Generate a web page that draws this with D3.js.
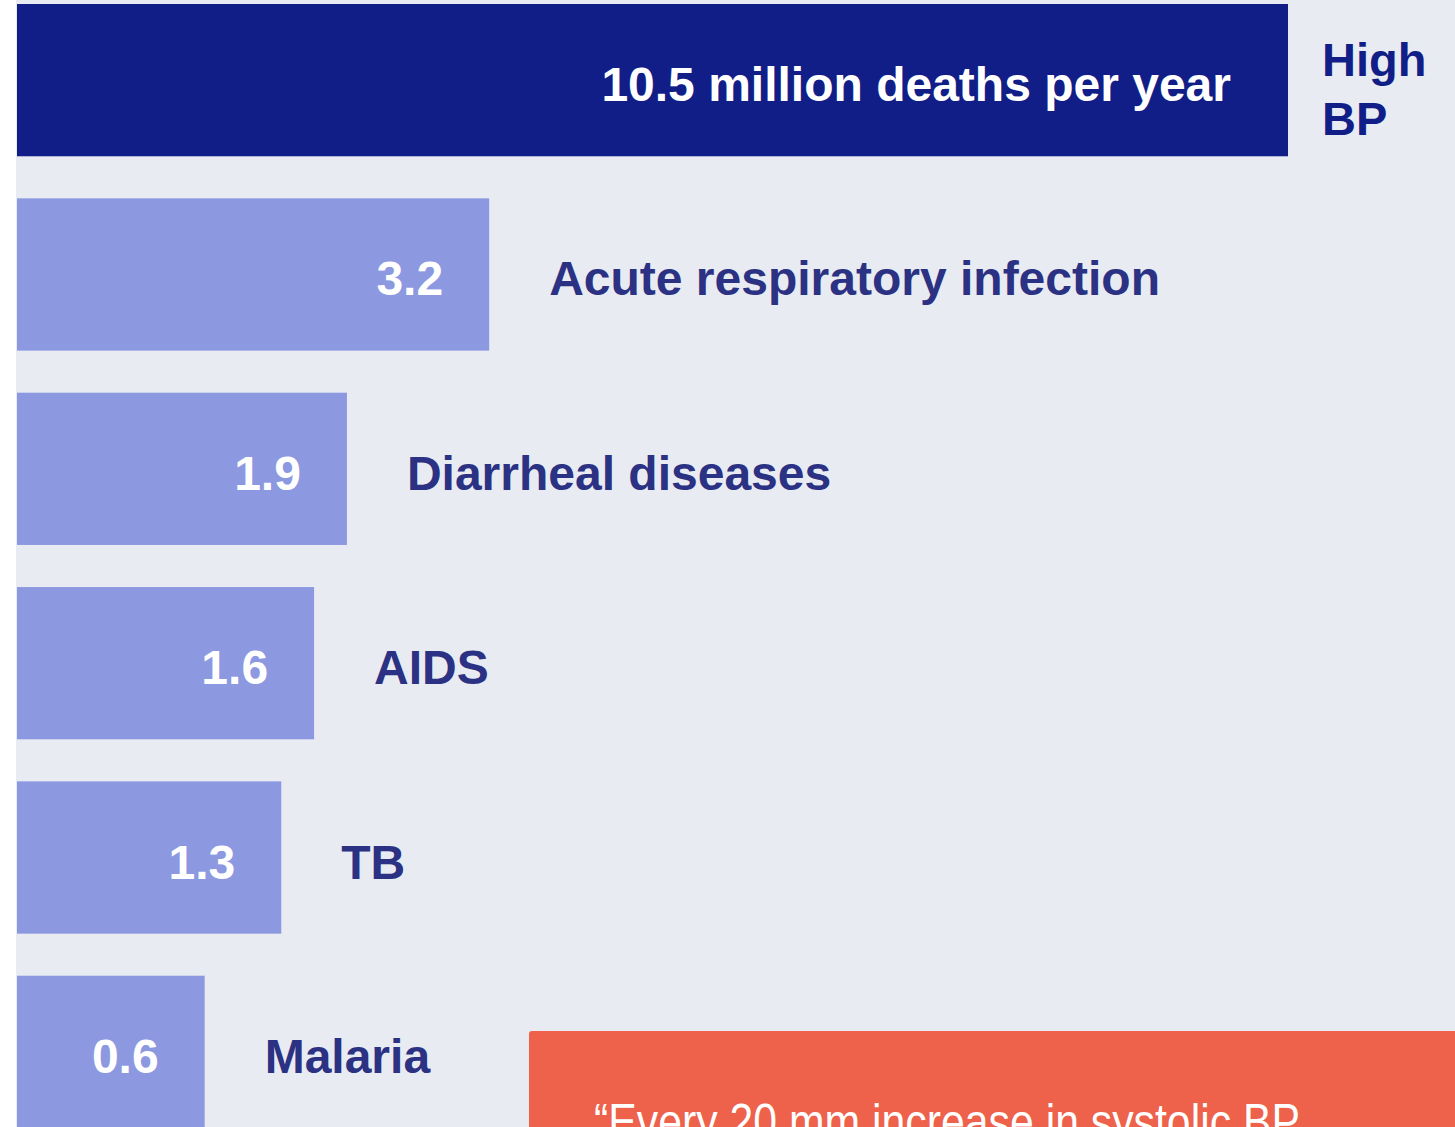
<!DOCTYPE html>
<html>
<head>
<meta charset="utf-8">
<script src="https://cdn.jsdelivr.net/npm/d3@7"></script>
<style>
  html, body { margin: 0; padding: 0; background: #ffffff; overflow: hidden; }
  svg { display: block; font-family: "Liberation Sans", Arial, sans-serif; }
</style>
</head>
<body>
<div id="chart"></div>
<script>
// Deaths per year (millions).
const causes = ["High BP", "Acute respiratory infection", "Diarrheal diseases", "AIDS", "TB", "Malaria"];
const deaths = [10.5, 3.2, 1.9, 1.6, 1.3, 0.6];
const valueLabels = ["10.5 million deaths per year", "3.2", "1.9", "1.6", "1.3", "0.6"];
const quote = "\u201CEvery 20 mm increase in systolic BP";

const width = 1455, height = 1127;
const left = 17;

const rows = causes.map((c, i) => ({cause: c, value: deaths[i], label: valueLabels[i], top: i === 0}));

const svg = d3.select("#chart").append("svg")
  .attr("width", width)
  .attr("height", height);

// Light grey panel, leaving a thin white strip on the left.
svg.append("rect")
  .attr("x", 16).attr("y", 0)
  .attr("width", width - 16).attr("height", height)
  .attr("fill", "#e8ebf1");

// The bars in the original are not strictly proportional; the scale starts offset.
const x = d3.scaleLinear().domain([0, 10.5]).range([left + 122, 1288]);
const y = d3.scaleBand().domain(causes).range([4, 1128]).paddingInner(42 / 194).paddingOuter(0);

const g = svg.append("g");

g.selectAll("rect.bar")
  .data(rows)
  .join("rect")
    .attr("class", "bar")
    .attr("x", left)
    .attr("y", d => y(d.cause))
    .attr("width", d => x(d.value) - left)
    .attr("height", d => d === rows[rows.length - 1] ? y.bandwidth() + 10 : y.bandwidth())
    .attr("fill", d => d.top ? "#111e87" : "#8c98e0");

// Value labels inside the bars.
g.selectAll("text.value")
  .data(rows)
  .join("text")
    .attr("class", "value")
    .attr("x", d => x(d.value) - (d.top ? 57 : 46))
    .attr("y", d => y(d.cause) + y.bandwidth() / 2 + 21)
    .attr("text-anchor", "end")
    .attr("font-size", 48)
    .attr("font-weight", "bold")
    .attr("fill", "#ffffff")
    .text(d => d.label);

// Category labels to the right of the bars.
g.selectAll("text.cause")
  .data(rows.filter(d => !d.top))
  .join("text")
    .attr("class", "cause")
    .attr("x", d => x(d.value) + 60)
    .attr("y", d => y(d.cause) + y.bandwidth() / 2 + 21)
    .attr("font-size", 48)
    .attr("font-weight", "bold")
    .attr("fill", "#2b3183")
    .text(d => d.cause);

// "High BP" broken onto two lines.
const hb = rows[0];
const hbText = g.append("text")
  .attr("x", x(hb.value) + 34)
  .attr("y", y(hb.cause) + 72)
  .attr("font-size", 47)
  .attr("font-weight", "bold")
  .attr("fill", "#111e87");
hb.cause.split(" ").forEach((w, i) => {
  hbText.append("tspan")
    .attr("x", x(hb.value) + 34)
    .attr("dy", i === 0 ? 0 : 59)
    .text(w);
});

// Quote box, cut off by the bottom edge as in the original.
svg.append("rect")
  .attr("x", 529).attr("y", 1031)
  .attr("width", width - 529 + 10).attr("height", 200)
  .attr("rx", 3)
  .attr("fill", "#ee614a");

svg.append("text")
  .attr("x", 594)
  .attr("y", 1139)
  .attr("font-size", 50)
  .attr("fill", "#ffffff")
  .attr("textLength", 706)
  .attr("lengthAdjust", "spacingAndGlyphs")
  .text(quote);
</script>
</body>
</html>
